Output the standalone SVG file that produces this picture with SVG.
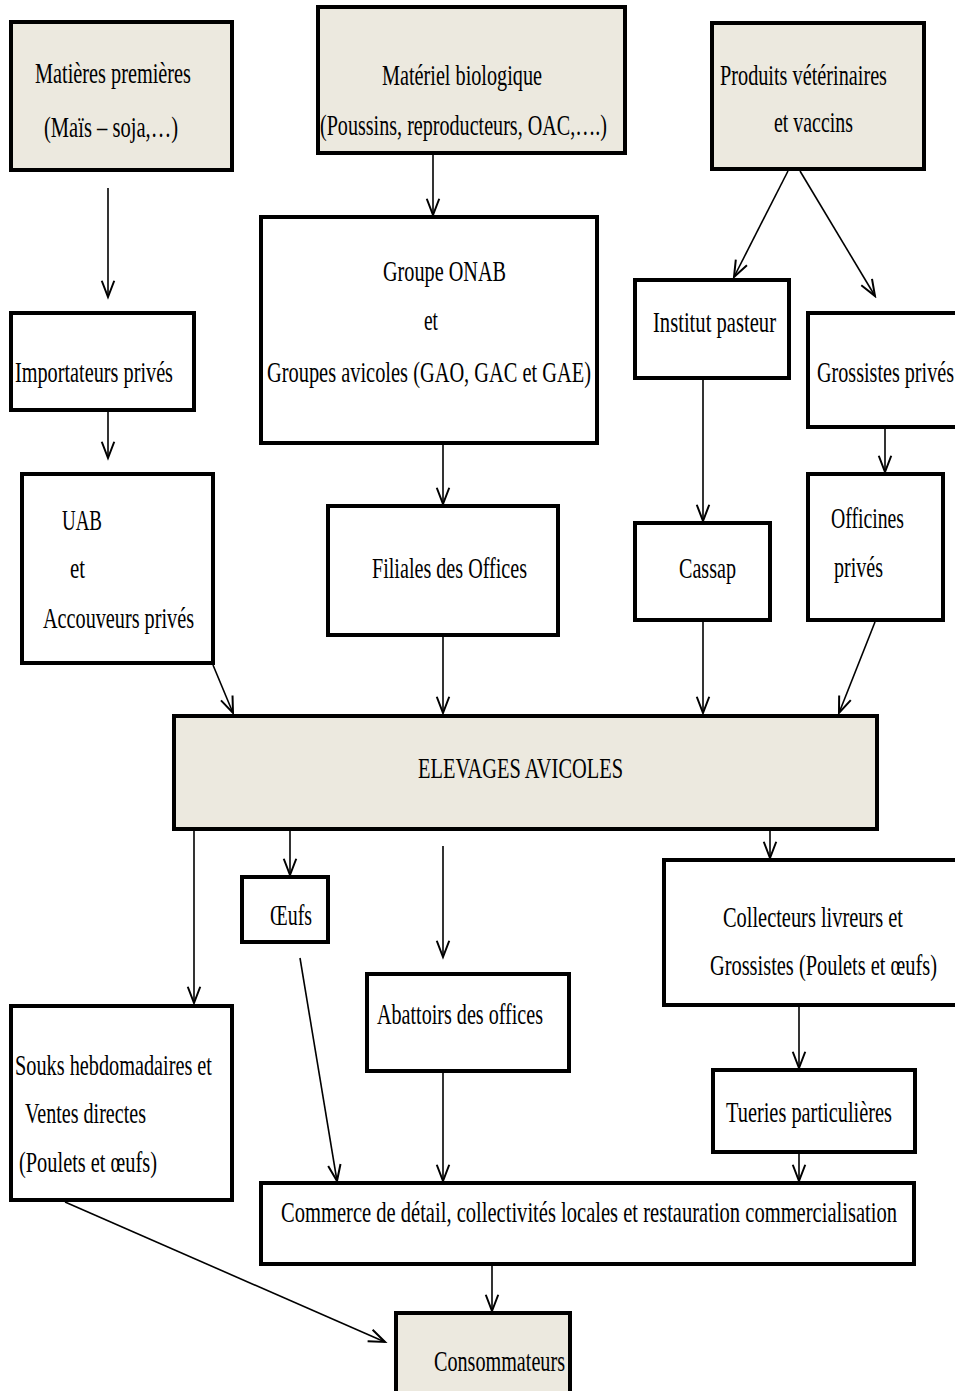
<svg xmlns="http://www.w3.org/2000/svg" width="955" height="1391" viewBox="0 0 955 1391">
<style>
.box{fill:#fff;stroke:#000;stroke-width:4}
.hl{fill:#ECE9DF;stroke:#000;stroke-width:4}
text{font-family:"Liberation Serif","Times New Roman",serif;font-size:30px;fill:#000}
.c{fill:none;stroke:#000;stroke-width:1.6}
</style>
<defs>
<marker id="ah" markerUnits="userSpaceOnUse" markerWidth="20" markerHeight="20" viewBox="-14 -8 16 16" refX="0" refY="0" orient="auto">
<path d="M-13,-5 L0,0 L-13,5" fill="none" stroke="#000" stroke-width="1.6"/>
</marker>
</defs>
<rect width="955" height="1391" fill="#fff"/>
<g id="connectors">
<line class="c" x1="108" y1="188" x2="108" y2="297" marker-end="url(#ah)"/>
<line class="c" x1="108" y1="412" x2="108" y2="458" marker-end="url(#ah)"/>
<line class="c" x1="433" y1="155" x2="433" y2="215" marker-end="url(#ah)"/>
<line class="c" x1="443" y1="445" x2="443" y2="504" marker-end="url(#ah)"/>
<line class="c" x1="788" y1="171" x2="734" y2="277" marker-end="url(#ah)"/>
<line class="c" x1="800" y1="171" x2="875" y2="296" marker-end="url(#ah)"/>
<line class="c" x1="703" y1="380" x2="703" y2="521" marker-end="url(#ah)"/>
<line class="c" x1="885" y1="429" x2="885" y2="472" marker-end="url(#ah)"/>
<line class="c" x1="213" y1="665" x2="233" y2="713" marker-end="url(#ah)"/>
<line class="c" x1="443" y1="637" x2="443" y2="713" marker-end="url(#ah)"/>
<line class="c" x1="703" y1="622" x2="703" y2="713" marker-end="url(#ah)"/>
<line class="c" x1="875" y1="622" x2="839" y2="713" marker-end="url(#ah)"/>
<line class="c" x1="194" y1="830" x2="194" y2="1003" marker-end="url(#ah)"/>
<line class="c" x1="290" y1="830" x2="290" y2="875" marker-end="url(#ah)"/>
<line class="c" x1="443" y1="846" x2="443" y2="957" marker-end="url(#ah)"/>
<line class="c" x1="770" y1="830" x2="770" y2="858" marker-end="url(#ah)"/>
<line class="c" x1="300" y1="958" x2="337" y2="1181" marker-end="url(#ah)"/>
<line class="c" x1="443" y1="1073" x2="443" y2="1181" marker-end="url(#ah)"/>
<line class="c" x1="799" y1="1007" x2="799" y2="1068" marker-end="url(#ah)"/>
<line class="c" x1="799" y1="1154" x2="799" y2="1181" marker-end="url(#ah)"/>
<line class="c" x1="492" y1="1266" x2="492" y2="1311" marker-end="url(#ah)"/>
<line class="c" x1="65" y1="1202" x2="385" y2="1342" marker-end="url(#ah)"/>
</g>
<g id="matieres">
<rect class="hl" x="11" y="22" width="221" height="148"/>
<text x="35" y="83" textLength="156" lengthAdjust="spacingAndGlyphs">Matières premières</text>
<text x="44" y="137" textLength="134" lengthAdjust="spacingAndGlyphs">(Maïs – soja,…)</text>
</g>
<g id="materiel">
<rect class="hl" x="318" y="7" width="307" height="146"/>
<text x="382" y="85" textLength="160" lengthAdjust="spacingAndGlyphs">Matériel biologique</text>
<text x="320" y="135" textLength="287" lengthAdjust="spacingAndGlyphs">(Poussins, reproducteurs, OAC,….)</text>
</g>
<g id="produits">
<rect class="hl" x="712" y="23" width="212" height="146"/>
<text x="720" y="85" textLength="167" lengthAdjust="spacingAndGlyphs">Produits vétérinaires</text>
<text x="774" y="132" textLength="79" lengthAdjust="spacingAndGlyphs">et vaccins</text>
</g>
<g id="onab">
<rect class="box" x="261" y="217" width="336" height="226"/>
<text x="383" y="281" textLength="123" lengthAdjust="spacingAndGlyphs">Groupe ONAB</text>
<text x="424" y="330" textLength="14" lengthAdjust="spacingAndGlyphs">et</text>
<text x="267" y="382" textLength="324" lengthAdjust="spacingAndGlyphs">Groupes avicoles (GAO, GAC et GAE)</text>
</g>
<g id="importateurs">
<rect class="box" x="11" y="313" width="183" height="97"/>
<text x="15" y="382" textLength="158" lengthAdjust="spacingAndGlyphs">Importateurs privés</text>
</g>
<g id="uab">
<rect class="box" x="22" y="474" width="191" height="189"/>
<text x="62" y="530" textLength="40" lengthAdjust="spacingAndGlyphs">UAB</text>
<text x="70" y="578" textLength="15" lengthAdjust="spacingAndGlyphs">et</text>
<text x="43" y="628" textLength="151" lengthAdjust="spacingAndGlyphs">Accouveurs privés</text>
</g>
<g id="filiales">
<rect class="box" x="328" y="506" width="230" height="129"/>
<text x="372" y="578" textLength="155" lengthAdjust="spacingAndGlyphs">Filiales des Offices</text>
</g>
<g id="institut">
<rect class="box" x="635" y="280" width="154" height="98"/>
<text x="653" y="332" textLength="123" lengthAdjust="spacingAndGlyphs">Institut pasteur</text>
</g>
<g id="grossistes">
<rect class="box" x="808" y="313" width="160" height="114"/>
<text x="817" y="382" textLength="137" lengthAdjust="spacingAndGlyphs">Grossistes privés</text>
</g>
<g id="cassap">
<rect class="box" x="635" y="523" width="135" height="97"/>
<text x="679" y="578" textLength="57" lengthAdjust="spacingAndGlyphs">Cassap</text>
</g>
<g id="officines">
<rect class="box" x="808" y="474" width="135" height="146"/>
<text x="831" y="528" textLength="73" lengthAdjust="spacingAndGlyphs">Officines</text>
<text x="834" y="577" textLength="49" lengthAdjust="spacingAndGlyphs">privés</text>
</g>
<g id="elevages">
<rect class="hl" x="174" y="716" width="703" height="113"/>
<text x="418" y="778" textLength="205" lengthAdjust="spacingAndGlyphs">ELEVAGES AVICOLES</text>
</g>
<g id="oeufs">
<rect class="box" x="242" y="877" width="86" height="65"/>
<text x="270" y="925" textLength="42" lengthAdjust="spacingAndGlyphs">Œufs</text>
</g>
<g id="abattoirs">
<rect class="box" x="367" y="974" width="202" height="97"/>
<text x="377" y="1024" textLength="166" lengthAdjust="spacingAndGlyphs">Abattoirs des offices</text>
</g>
<g id="collecteurs">
<rect class="box" x="664" y="860" width="310" height="145"/>
<text x="723" y="927" textLength="180" lengthAdjust="spacingAndGlyphs">Collecteurs livreurs et</text>
<text x="710" y="975" textLength="227" lengthAdjust="spacingAndGlyphs">Grossistes (Poulets et œufs)</text>
</g>
<g id="tueries">
<rect class="box" x="713" y="1070" width="202" height="82"/>
<text x="726" y="1122" textLength="166" lengthAdjust="spacingAndGlyphs">Tueries particulières</text>
</g>
<g id="souks">
<rect class="box" x="11" y="1006" width="221" height="194"/>
<text x="15" y="1075" textLength="197" lengthAdjust="spacingAndGlyphs">Souks hebdomadaires et</text>
<text x="25" y="1123" textLength="121" lengthAdjust="spacingAndGlyphs">Ventes directes</text>
<text x="19" y="1172" textLength="138" lengthAdjust="spacingAndGlyphs">(Poulets et œufs)</text>
</g>
<g id="commerce">
<rect class="box" x="261" y="1183" width="653" height="81"/>
<text x="281" y="1222" textLength="616" lengthAdjust="spacingAndGlyphs">Commerce de détail, collectivités locales et restauration commercialisation</text>
</g>
<g id="consommateurs">
<rect class="hl" x="396" y="1313" width="174" height="90"/>
<text x="434" y="1371" textLength="131" lengthAdjust="spacingAndGlyphs">Consommateurs</text>
</g>
</svg>
